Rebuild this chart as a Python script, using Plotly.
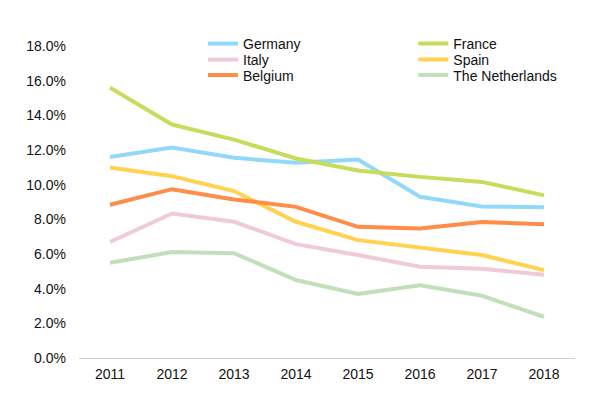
import plotly.graph_objects as go

years = ["2011", "2012", "2013", "2014", "2015", "2016", "2017", "2018"]
germany = [11.6, 12.14, 11.55, 11.26, 11.45, 9.3, 8.74, 8.70]
france = [15.6, 13.47, 12.6, 11.51, 10.82, 10.45, 10.16, 9.38]
italy = [6.69, 8.34, 7.86, 6.57, 5.94, 5.26, 5.15, 4.80]
spain = [10.99, 10.49, 9.63, 7.86, 6.80, 6.38, 5.94, 5.07]
belgium = [8.84, 9.74, 9.15, 8.72, 7.57, 7.47, 7.84, 7.72]
netherlands = [5.49, 6.11, 6.05, 4.50, 3.69, 4.19, 3.59, 2.38]

series = [
    ("Germany", germany, "#92D9F7"),
    ("France", france, "#C6DC5A"),
    ("Italy", italy, "#F0CAD6"),
    ("Spain", spain, "#FFD24F"),
    ("Belgium", belgium, "#FF8C48"),
    ("The Netherlands", netherlands, "#C2DFBA"),
]

# legend slot (column x in paper fraction, row y in pixels) per series
col_x = [0.250, 0.674]
row_y = [44, 60, 75.5]

fig = go.Figure()
legends = {}
for i, (name, vals, color) in enumerate(series):
    key = "legend" if i == 0 else f"legend{i + 1}"
    fig.add_trace(go.Scatter(x=years, y=vals, name=name, mode="lines",
                             legend=key, line=dict(color=color, width=4)))
    legends[key] = dict(x=col_x[i % 2], y=(358 - row_y[i // 2]) / 312,
                        xanchor="left", yanchor="middle",
                        xref="paper", yref="paper",
                        font=dict(size=14, color="#111"),
                        bgcolor="rgba(0,0,0,0)", itemwidth=30)

fig.update_layout(
    width=595, height=397,
    margin=dict(l=79, r=20, t=46, b=39),
    paper_bgcolor="white", plot_bgcolor="white",
    font=dict(family="Liberation Sans, Arial, sans-serif", size=14, color="#111"),
    showlegend=True,
    xaxis=dict(type="category", showgrid=False, showline=True, linecolor="#d0d0d0",
               linewidth=1, ticks="", ticklabelstandoff=3, range=[-0.5, 7.5],
               fixedrange=True),
    yaxis=dict(range=[0, 18], dtick=2, tickformat=".1f", ticksuffix="%",
               showgrid=False, zeroline=False, showline=False, ticks="",
               ticklabelstandoff=12, fixedrange=True),
    **legends,
)

fig.write_html("out.html", config={"displayModeBar": False},
               post_script="document.body.style.margin='0';")
